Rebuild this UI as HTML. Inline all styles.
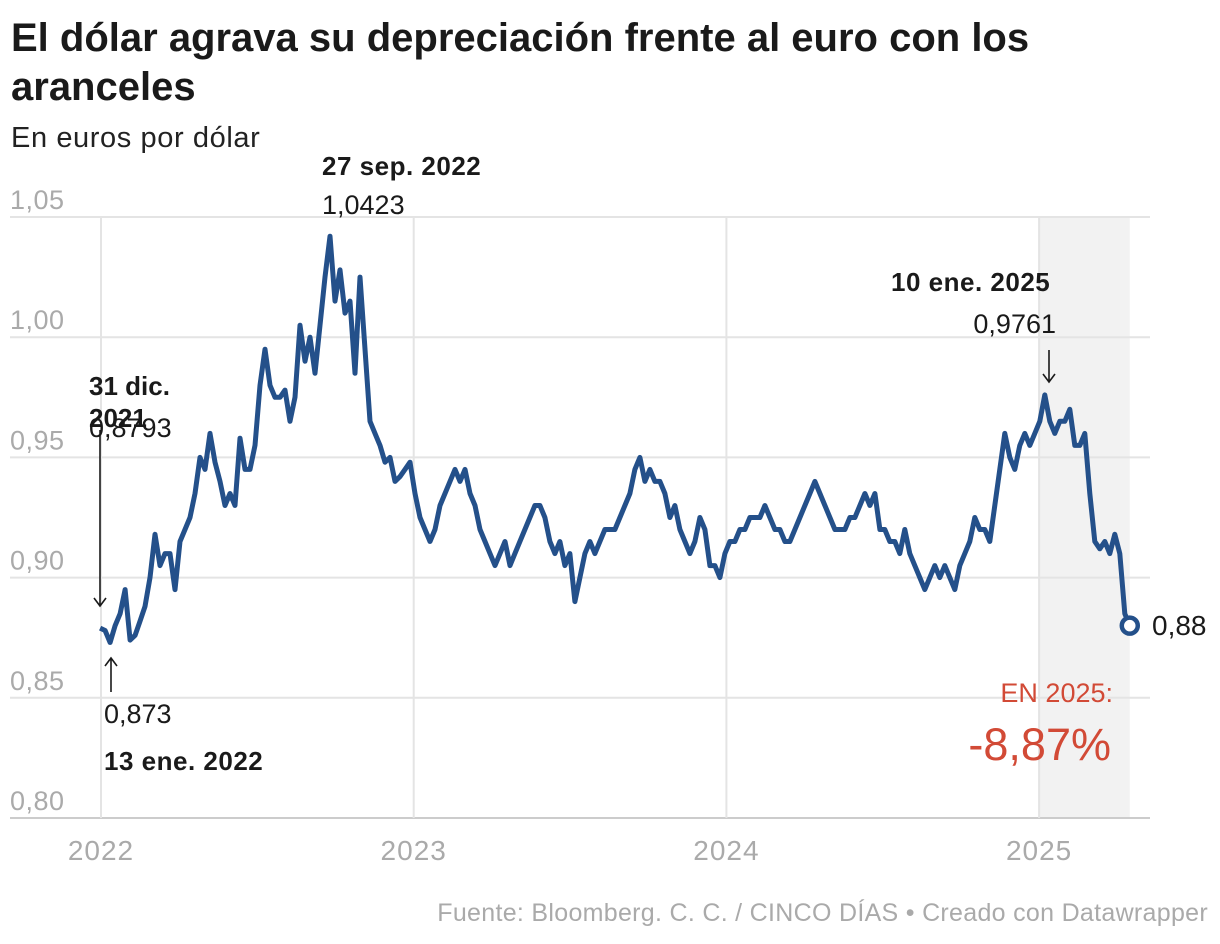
<!DOCTYPE html>
<html><head><meta charset="utf-8">
<style>
body{margin:0;background:#fff;width:1220px;height:944px;overflow:hidden;font-family:"Liberation Sans",sans-serif;}
#title{position:absolute;left:11px;top:14px;font-size:40px;font-weight:bold;line-height:49px;color:#1a1a1a;letter-spacing:0px;margin:0;}
#subtitle{position:absolute;left:11px;top:122px;font-size:29px;color:#222;letter-spacing:0.6px;}
#source{position:absolute;right:12px;top:899px;font-size:25px;color:#aaa;letter-spacing:0.3px;}
svg{position:absolute;left:0;top:0;}
</style></head><body>
<h1 id="title">El dólar agrava su depreciación frente al euro con los<br>aranceles</h1>
<div id="subtitle">En euros por dólar</div>
<div id="source">Fuente: Bloomberg. C. C. / CINCO DÍAS • Creado con Datawrapper</div>
<svg id="chart" width="1220" height="944"></svg>
<script>
const yTicks=[0.80,0.85,0.90,0.95,1.00,1.05];
const yTickLabels=["0,80","0,85","0,90","0,95","1,00","1,05"];
const xTicks=[2022,2023,2024,2025];
const startYear=2021.997, endYear=2025.29;
const values=[
.879,.878,.873,.880,.885,.895,.874,.876,.882,.888,.900,.918,.905,.910,.910,.895,.915,.920,.925,.935,
.950,.945,.960,.948,.940,.930,.935,.930,.958,.945,.945,.955,.980,.995,.980,.975,.975,.978,.965,.975,
1.005,.990,1.000,.985,1.005,1.025,1.042,1.015,1.028,1.010,1.015,.985,1.025,.995,.965,.960,.955,.948,.950,.940,
.942,.945,.948,
.935,.925,.920,.915,.920,.930,.935,.940,.945,.940,.945,.935,.930,.920,.915,.910,.905,.910,.915,.905,
.910,.915,.920,.925,.930,.930,.925,.915,.910,.915,.905,.910,.890,.900,.910,.915,.910,.915,.920,.920,
.920,.925,.930,.935,.945,.950,.940,.945,.940,.940,.935,.925,.930,.920,.915,.910,.915,.925,.920,.905,
.905,.900,.910,
.915,.915,.920,.920,.925,.925,.925,.930,.925,.920,.920,.915,.915,.920,.925,.930,.935,.940,.935,.930,
.925,.920,.920,.920,.925,.925,.930,.935,.930,.935,.920,.920,.915,.915,.910,.920,.910,.905,.900,.895,
.900,.905,.900,.905,.900,.895,.905,.910,.915,.925,.920,.920,.915,.930,.945,.960,.950,.945,.955,.960,
.955,.960,
.965,.976,.965,.960,.965,.965,.970,.955,.955,.960,.935,.915,.912,.915,.910,.918,.910,.885,.880];
const lastValue=0.88;
const svg=document.getElementById('chart');
const NS='http://www.w3.org/2000/svg';
const X=yr=>101+(yr-2022)*312.7;
const Y=v=>818-(v-0.80)/0.05*120.2;
function mk(tag,attrs,parent){const e=document.createElementNS(NS,tag);for(const k in attrs)e.setAttribute(k,attrs[k]);(parent||svg).appendChild(e);return e;}
let sh=mk('rect',{x:X(2025),y:217,width:X(endYear)-X(2025),height:601,fill:'#f2f2f2'});


yTicks.forEach((t,i)=>{
 let g=mk('line',{x1:10,x2:1150,y1:Y(t),y2:Y(t),stroke:i==0?'#ccc':'#e4e4e4','stroke-width':2});
 
 
 let tx=mk('text',{x:10,y:Y(t)-8,'font-size':27,fill:'#aaa','letter-spacing':0.5});tx.textContent=yTickLabels[i];
 
 
});
xTicks.forEach(t=>{
 let g=mk('line',{x1:X(t),x2:X(t),y1:217,y2:818,stroke:'#e4e4e4','stroke-width':2});
 
 
 let tx=mk('text',{x:X(t),y:860,'font-size':28,fill:'#aaa','text-anchor':'middle','letter-spacing':1});tx.textContent=t;
 
 
});
const step=(endYear-startYear)/(values.length-1);
let d=values.map((v,i)=>(i?'L':'M')+X(startYear+i*step).toFixed(1)+','+Y(v).toFixed(1)).join('');
let p=mk('path',{d:d,fill:'none',stroke:'#24508a','stroke-width':5,'stroke-linejoin':'round'});


let c=mk('circle',{cx:X(endYear),cy:Y(lastValue),r:8,fill:'#fff',stroke:'#24508a','stroke-width':4.5});


function txt(s,x,y,o,name){let t=mk('text',Object.assign({x:x,y:y,'font-size':27,fill:'#1a1a1a'},o));t.textContent=s;
 
 return t;}
txt('0,88',1152,635,{'font-size':28},'end-value-label');
txt('27 sep. 2022',322,175,{'font-weight':'bold','font-size':26,'letter-spacing':0.5},'annotation-peak-date');
txt('1,0423',322,214,{},'annotation-peak-value');
txt('10 ene. 2025',891,291,{'font-weight':'bold','font-size':26,'letter-spacing':0.5},'annotation-2025-date');
txt('0,9761',1056,333,{'text-anchor':'end'},'annotation-2025-value');
txt('31 dic.',89,395,{'font-weight':'bold','font-size':26},'annotation-start-date');
txt('2021',89,427,{'font-weight':'bold','font-size':26},'annotation-start-year');
txt('0,8793',89,437,{},'annotation-start-value');
txt('0,873',104,723,{},'annotation-low-value');
txt('13 ene. 2022',104,770,{'font-weight':'bold','font-size':26,'letter-spacing':0.5},'annotation-low-date');
txt('EN 2025:',1113,702,{fill:'#d24a36','text-anchor':'end','font-size':27},'ytd-label');
txt('-8,87%',1111,760,{fill:'#d24a36','text-anchor':'end','font-size':45},'ytd-change');
function arrow(x,y1,y2,name){let g=mk('path',{d:`M${x},${y1}L${x},${y2}M${x-6},${y2+(y2>y1?-8:8)}L${x},${y2}L${x+6},${y2+(y2>y1?-8:8)}`,stroke:'#1a1a1a','stroke-width':1.6,fill:'none'});
 
 }
arrow(100,430,606,'arrow-start');
arrow(111,692,658,'arrow-low');
arrow(1049,350,382,'arrow-2025-peak');
</script>
</body></html>
